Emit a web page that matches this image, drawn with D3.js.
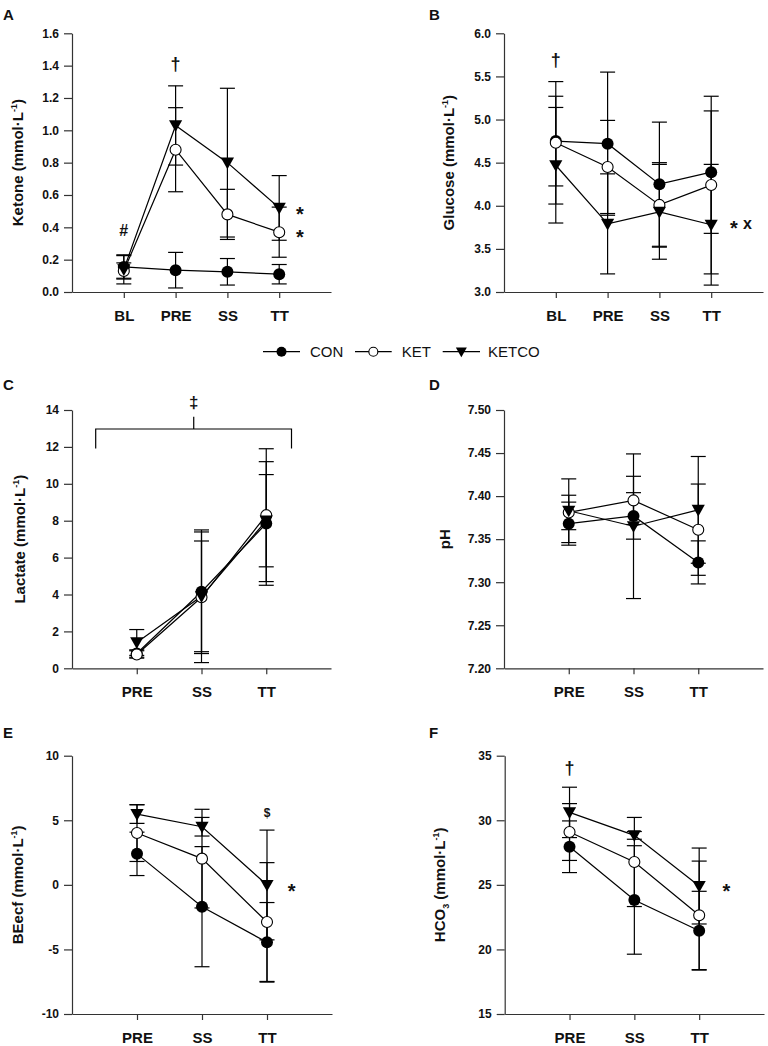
<!DOCTYPE html>
<html><head><meta charset="utf-8">
<script src="https://cdn.jsdelivr.net/npm/d3@7"></script>
<style>
body{margin:0;background:#fff;}
svg text{font-family:"Liberation Sans",Arial,Helvetica,sans-serif;}
</style></head>
<body><svg id="c" width="768" height="1046"></svg>
<script>
// ---------- data ----------
const seriesNames = ["CON","KET","KETCO"];
const catsA = ["BL","PRE","SS","TT"];
const catsC = ["PRE","SS","TT"];

const ketoneTicks = [0,0.2,0.4,0.6,0.8,1.0,1.2,1.4,1.6];
const ketoneCON = [0.155,0.135,0.125,0.11];
const ketoneKET = [0.13,0.88,0.48,0.37];
const ketoneKETCO = [0.14,1.03,0.80,0.52];
const ketoneErrCON = [0.07,0.11,0.082,0.06];
const ketoneErrKET = [0.05,0.26,0.155,0.155];
const ketoneErrKETCO = [0.09,0.245,0.46,0.2];

const glucoseTicks = [3.0,3.5,4.0,4.5,5.0,5.5,6.0];
const glucoseCON = [4.75,4.72,4.25,4.39];
const glucoseKET = [4.73,4.45,4.01,4.24];
const glucoseKETCO = [4.47,3.79,3.93,3.78];
const glucoseErrCON = [0.52,0.83,0.72,0.71];
const glucoseErrKET = [0.71,0.54,0.49,1.03];
const glucoseErrKETCO = [0.67,0.58,0.55,0.70];

const lactateTicks = [0,2,4,6,8,10,12,14];
const lactateCON = [0.8,4.15,7.85];
const lactateKET = [0.75,3.85,8.3];
const lactateKETCO = [1.4,3.9,8.0];
const lactateErrCON = [0.2,3.35,3.35];
const lactateErrKET = [0.2,3.54,3.6];
const lactateErrKETCO = [0.7,3.0,2.5];

const phTicks = [7.20,7.25,7.30,7.35,7.40,7.45,7.50];
const phCON = [7.368,7.377,7.323];
const phKET = [7.381,7.395,7.361];
const phKETCO = [7.383,7.365,7.384];
const phErrCON = [0.025,0.027,0.025];
const phErrKET = [0.02,0.028,0.053];
const phErrKETCO = [0.037,0.084,0.062];

const beTicks = [-10,-5,0,5,10];
const beCON = [2.4,-1.69,-4.45];
const beKET = [4.01,2.03,-2.88];
const beKETCO = [5.48,4.5,-0.01];
const beErrCON = [1.68,4.65,3.08];
const beErrKET = [2.2,3.82,4.6];
const beErrKETCO = [0.72,0.72,4.25];

const hco3Ticks = [15,20,25,30,35];
const hco3CON = [27.95,23.83,21.45];
const hco3KET = [29.09,26.77,22.64];
const hco3KETCO = [30.61,28.83,24.91];
const hco3ErrCON = [2.0,4.2,3.05];
const hco3ErrKET = [2.2,3.45,4.2];
const hco3ErrKETCO = [1.95,0.3,2.94];

// ---------- drawing ----------
const svg = d3.select("#c");
const FONT = '"Liberation Sans",Arial,Helvetica,sans-serif';
const AXC = "#333";
const intFmt = d => String(d);

function marker(g, type, x, y, r) {
  if (type === "CON") {
    g.append("circle").attr("cx", x).attr("cy", y).attr("r", r).attr("fill", "#000");
  } else if (type === "KET") {
    g.append("circle").attr("cx", x).attr("cy", y).attr("r", r - 0.5).attr("fill", "#fff").attr("stroke", "#000").attr("stroke-width", 1.1);
  } else {
    const w = r * 1.1, h1 = r * 0.85, h2 = r * 1.1;
    g.append("path").attr("d", `M${x - w},${y - h1}L${x + w},${y - h1}L${x},${y + h2}Z`).attr("fill", "#000");
  }
}

function panel(cfg) {
  const g = svg.append("g");
  const n = cfg.cats.length;
  const x = d3.scaleLinear().domain([0, n + 1]).range([cfg.x0, cfg.x1]);
  const y = d3.scaleLinear().domain(cfg.domain).range([cfg.yBot, cfg.yTop]);
  cfg.xs = x; cfg.ys = y;

  const ya = g.append("g").attr("transform", `translate(${cfg.x0},0)`)
    .call(d3.axisLeft(y).tickValues(cfg.ticks).tickFormat(cfg.fmt).tickSize(8).tickPadding(5).tickSizeOuter(0));
  ya.select(".domain").attr("stroke", AXC).attr("stroke-width", 1.2);
  ya.selectAll(".tick line").attr("stroke", AXC).attr("stroke-width", 1.2);
  ya.selectAll(".tick text").attr("font-family", FONT).attr("font-size", 12).attr("font-weight", "bold").attr("fill", "#111");

  const xa = g.append("g").attr("transform", `translate(0,${cfg.yBot})`)
    .call(d3.axisBottom(x).tickValues(d3.range(1, n + 1)).tickFormat(i => cfg.cats[i - 1]).tickSize(6).tickSizeOuter(0));
  xa.select(".domain").attr("stroke", AXC).attr("stroke-width", 1.2);
  xa.selectAll(".tick line").attr("stroke", AXC).attr("stroke-width", 1.2);
  xa.selectAll(".tick text").attr("font-family", FONT).attr("font-size", 15).attr("font-weight", "bold").attr("fill", "#111")
    .attr("y", 29).attr("dy", 0);

  const t = g.append("text").attr("transform", `translate(${cfg.titleX},${(cfg.yTop + cfg.yBot) / 2}) rotate(-90)`)
    .attr("text-anchor", "middle").attr("dy", "0.36em").attr("font-family", FONT).attr("font-size", 15).attr("font-weight", "bold").attr("fill", "#111");
  cfg.title(t);

  g.append("text").attr("x", cfg.letterX).attr("y", cfg.letterY).text(cfg.letter)
    .attr("font-family", FONT).attr("font-size", 15).attr("font-weight", "bold").attr("fill", "#111");

  const series = [
    {name: "CON", v: cfg.CON, e: cfg.eCON},
    {name: "KET", v: cfg.KET, e: cfg.eKET},
    {name: "KETCO", v: cfg.KETCO, e: cfg.eKETCO}
  ];
  const eb = g.append("g").attr("stroke", "#000").attr("stroke-width", 1.2);
  series.forEach(s => {
    s.v.forEach((v, i) => {
      const cx = x(i + 1), hi = y(v + s.e[i]), lo = y(v - s.e[i]);
      eb.append("line").attr("x1", cx).attr("x2", cx).attr("y1", hi).attr("y2", lo);
      eb.append("line").attr("x1", cx - 7.5).attr("x2", cx + 7.5).attr("y1", hi).attr("y2", hi);
      eb.append("line").attr("x1", cx - 7.5).attr("x2", cx + 7.5).attr("y1", lo).attr("y2", lo);
    });
  });
  const line = d3.line().x((d, i) => x(i + 1)).y(d => y(d));
  series.forEach(s => {
    g.append("path").attr("d", line(s.v)).attr("fill", "none").attr("stroke", "#000").attr("stroke-width", 1.2);
  });
  series.forEach(s => {
    s.v.forEach((v, i) => marker(g, s.name, x(i + 1), y(v), 6));
  });
  return cfg;
}

function ann(cfg, txt, xv, yv, size, dy) {
  svg.append("text").attr("x", cfg.xs(xv)).attr("y", cfg.ys(yv)).attr("dy", dy || 0)
    .attr("text-anchor", "middle").attr("dominant-baseline", "central")
    .attr("font-family", FONT).attr("font-size", size).attr("font-weight", "bold").attr("fill", "#111").text(txt);
}

function unitTitle(prefix, sub) {
  return t => {
    t.append("tspan").text(prefix);
    if (sub) t.append("tspan").attr("font-size", 9).attr("dy", 4).text(sub);
    t.append("tspan").attr("dy", sub ? -4 : 0).text(" (mmol·L");
    t.append("tspan").attr("font-size", 9).attr("dy", -6).text("-1");
    t.append("tspan").attr("dy", 6).text(")");
  };
}

const A = panel({x0: 72, x1: 331, yTop: 33.3, yBot: 292, cats: catsA, domain: [0, 1.6], ticks: ketoneTicks, fmt: d3.format(".1f"),
  title: unitTitle("Ketone"), titleX: 18, letter: "A", letterX: 3, letterY: 20,
  CON: ketoneCON, KET: ketoneKET, KETCO: ketoneKETCO, eCON: ketoneErrCON, eKET: ketoneErrKET, eKETCO: ketoneErrKETCO});
const B = panel({x0: 504, x1: 763, yTop: 33.3, yBot: 292, cats: catsA, domain: [3, 6], ticks: glucoseTicks, fmt: d3.format(".1f"),
  title: unitTitle("Glucose"), titleX: 449, letter: "B", letterX: 429, letterY: 20,
  CON: glucoseCON, KET: glucoseKET, KETCO: glucoseKETCO, eCON: glucoseErrCON, eKET: glucoseErrKET, eKETCO: glucoseErrKETCO});
const C = panel({x0: 72, x1: 331, yTop: 410, yBot: 668.3, cats: catsC, domain: [0, 14], ticks: lactateTicks, fmt: intFmt,
  title: unitTitle("Lactate"), titleX: 20, letter: "C", letterX: 3, letterY: 390,
  CON: lactateCON, KET: lactateKET, KETCO: lactateKETCO, eCON: lactateErrCON, eKET: lactateErrKET, eKETCO: lactateErrKETCO});
const D = panel({x0: 504, x1: 763, yTop: 410, yBot: 668.3, cats: catsC, domain: [7.2, 7.5], ticks: phTicks, fmt: d3.format(".2f"),
  title: t => t.text("pH"), titleX: 445, letter: "D", letterX: 429, letterY: 390,
  CON: phCON, KET: phKET, KETCO: phKETCO, eCON: phErrCON, eKET: phErrKET, eKETCO: phErrKETCO});
const E = panel({x0: 72, x1: 332, yTop: 755.7, yBot: 1014, cats: catsC, domain: [-10, 10], ticks: beTicks, fmt: intFmt,
  title: unitTitle("BEecf"), titleX: 18, letter: "E", letterX: 3, letterY: 737.7,
  CON: beCON, KET: beKET, KETCO: beKETCO, eCON: beErrCON, eKET: beErrKET, eKETCO: beErrKETCO});
const F = panel({x0: 504.7, x1: 764, yTop: 755.7, yBot: 1014, cats: catsC, domain: [15, 35], ticks: hco3Ticks, fmt: intFmt,
  title: unitTitle("HCO", "3"), titleX: 440, letter: "F", letterX: 429, letterY: 737.7,
  CON: hco3CON, KET: hco3KET, KETCO: hco3KETCO, eCON: hco3ErrCON, eKET: hco3ErrKET, eKETCO: hco3ErrKETCO});

// annotations
ann(A, "#", 1, 0.378, 16);
ann(A, "†", 2, 1.412, 18);
ann(A, "*", 4.40, 0.507, 20, 4);
ann(A, "*", 4.40, 0.365, 20, 4);
ann(B, "†", 1, 5.69, 18);
ann(B, "*", 4.44, 3.79, 20, 4);
ann(B, "x", 4.70, 3.79, 16);
ann(C, "‡", 1.88, 14.4, 17);
svg.append("path").attr("fill", "none").attr("stroke", "#000").attr("stroke-width", 1.2)
  .attr("d", `M${C.xs(0.366)},${C.ys(11.92)}V${C.ys(12.97)}H${C.xs(3.39)}V${C.ys(11.92)}M${C.xs(1.88)},${C.ys(12.97)}V${C.ys(13.64)}`);
ann(E, "$", 3, 5.54, 12);
ann(E, "*", 3.38, -0.14, 20, 4);
ann(F, "†", 1, 34.02, 18);
ann(F, "*", 3.42, 24.8, 20, 4);

// legend
const lg = svg.append("g");
const legendItems = [
  {name: "CON", x1: 263, x2: 300, text: 310},
  {name: "KET", x1: 355, x2: 391.7, text: 401.7},
  {name: "KETCO", x1: 442.7, x2: 480, text: 488}
];
legendItems.forEach(it => {
  lg.append("line").attr("x1", it.x1).attr("x2", it.x2).attr("y1", 351.7).attr("y2", 351.7).attr("stroke", "#000").attr("stroke-width", 1.2);
  marker(lg, it.name, (it.x1 + it.x2) / 2, 351.7, 5);
  lg.append("text").attr("x", it.text).attr("y", 351.7).attr("dominant-baseline", "central")
    .attr("font-family", FONT).attr("font-size", 15).attr("fill", "#111").text(it.name);
});
</script></body></html>
